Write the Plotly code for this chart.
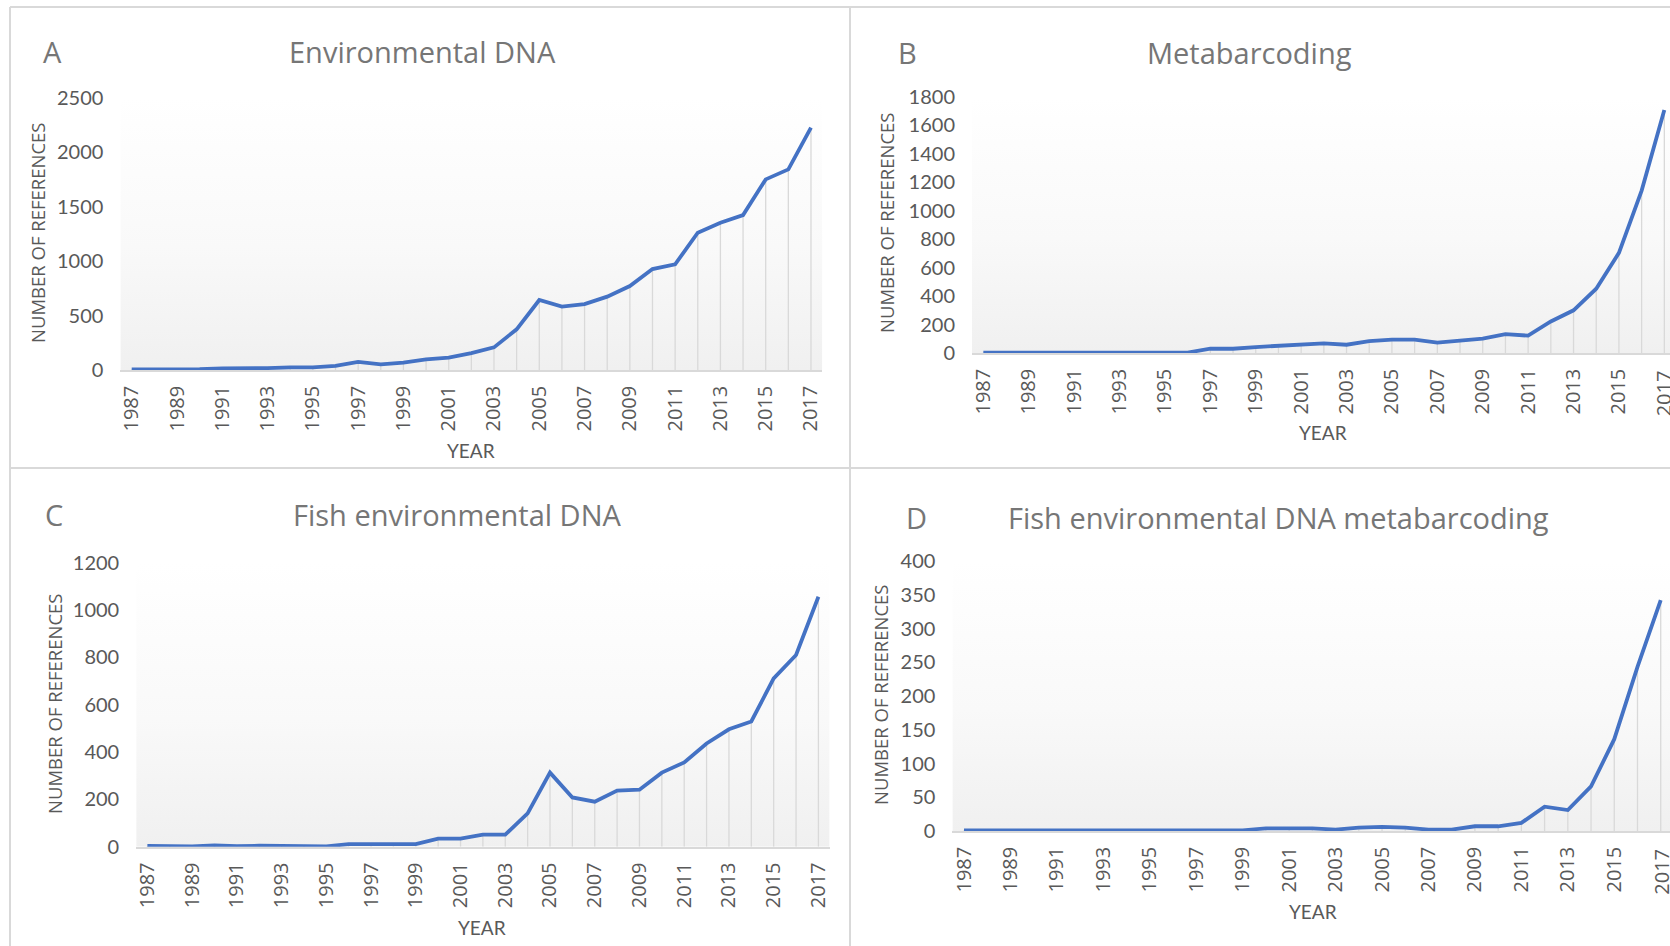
import plotly.graph_objects as go

W, H = 1670, 946

years = list(range(1987, 2018))
tick_years = list(range(1987, 2018, 2))
tick_labels = [str(y) for y in tick_years]

env_dna = [5, 5, 5, 8, 15, 15, 18, 25, 25, 37, 74, 52, 67, 98, 113, 156, 208,
           374, 643, 582, 606, 674, 772, 928, 971, 1262, 1354, 1424, 1752, 1844, 2227]
metabarcoding = [3, 3, 3, 3, 3, 3, 3, 3, 3, 3, 30, 30, 42, 49, 61, 68, 58,
                 84, 94, 94, 73, 89, 101, 133, 122, 222, 300, 452, 704, 1142, 1708]
fish_env_dna = [3, 3, 1, 6, 2, 4, 4, 4, 1, 11, 11, 11, 11, 34, 34, 51, 51,
                141, 313, 208, 190, 237, 241, 313, 356, 436, 496, 529, 711, 810, 1056]
fish_metabarcoding = [1, 1, 1, 1, 1, 1, 1, 1, 1, 1, 1, 1, 1, 4, 4, 4, 2,
                      5, 6, 5, 2, 2, 7, 7, 12, 36, 31, 66, 136, 243, 342]

panel_letters = ["A", "B", "C", "D"]
panel_titles = ["Environmental DNA", "Metabarcoding", "Fish environmental DNA",
                "Fish environmental DNA metabarcoding"]
y_title = "NUMBER OF REFERENCES"
x_title = "YEAR"

y_max = [2500, 1800, 1200, 400]
y_step = [500, 200, 200, 50]
series = [env_dna, metabarcoding, fish_env_dna, fish_metabarcoding]


def px(x):
    return x / W


def py(y):
    return 1 - y / H


# layout geometry (pixels)
panels = [
    dict(left=120.4, right=822.3, top=98, bottom=370, xr=[1986.5, 2017.5],
         letter=(52, 52), title=(423, 52), ytit=(37, 233), xtit=(471, 450),
         clipped_label=False, label_top=387),
    dict(left=972, right=1670, top=97, bottom=353, xr=[1986.5, 2017.25],
         letter=(907, 53), title=(1249, 53), ytit=(886, 223), xtit=(1323, 433),
         clipped_label=True, label_top=368),
    dict(left=136.2, right=829.6, top=562.7, bottom=846.7, xr=[1986.5, 2017.5],
         letter=(54, 514), title=(457, 514), ytit=(54, 704), xtit=(482, 927),
         clipped_label=False, label_top=862),
    dict(left=952.4, right=1670, top=561, bottom=831, xr=[1986.5, 2017.4],
         letter=(917, 517), title=(1278, 517), ytit=(880, 695), xtit=(1313, 911),
         clipped_label=True, label_top=847),
]

LINE = "#4472C4"
GRID = "#d9d9d9"
TXT = "#595959"
TITLE = "#767676"

fig = go.Figure()
annotations = []
layout_axes = {}

for i, p in enumerate(panels):
    n = i + 1
    xa = "x" if n == 1 else f"x{n}"
    ya = "y" if n == 1 else f"y{n}"
    vals = series[i]
    ym = y_max[i]

    # gradient plot-area background
    fig.add_trace(go.Scatter(
        x=[p["xr"][0], p["xr"][1], p["xr"][1], p["xr"][0], p["xr"][0]],
        y=[0, 0, ym, ym, 0], mode="lines", line=dict(width=0),
        fill="toself",
        fillgradient=dict(type="vertical",
                          colorscale=[[0, "#f0f0f0"], [0.45, "#f9f9f9"], [1, "#ffffff"]]),
        hoverinfo="skip", showlegend=False, xaxis=xa, yaxis=ya))

    # drop lines
    fig.add_trace(go.Scatter(
        x=years, y=vals, mode="markers",
        marker=dict(size=1, color="rgba(0,0,0,0)"),
        error_y=dict(type="data", symmetric=False, array=[0] * len(vals),
                     arrayminus=vals, width=0, thickness=1.3, color=GRID),
        hoverinfo="skip", showlegend=False, xaxis=xa, yaxis=ya))

    # main line
    fig.add_trace(go.Scatter(
        x=years, y=vals, mode="lines",
        line=dict(color=LINE, width=3.8),
        showlegend=False, xaxis=xa, yaxis=ya,
        cliponaxis=False))

    xkey = "xaxis" if n == 1 else f"xaxis{n}"
    ykey = "yaxis" if n == 1 else f"yaxis{n}"
    layout_axes[xkey] = dict(
        domain=[px(p["left"]), min(1, px(p["right"]))],
        anchor=ya, range=p["xr"], tickmode="array", automargin=False,
        tickvals=tick_years, ticktext=tick_labels, tickangle=-90,
        showgrid=False, zeroline=False, showline=True, linecolor=GRID,
        linewidth=1.5, ticks="", ticklabelstandoff=6,
        tickfont=dict(family="Open Sans", size=20, color=TXT), fixedrange=True)
    layout_axes[ykey] = dict(
        domain=[py(p["bottom"]), py(p["top"])], automargin=False,
        anchor=xa, range=[0, ym], tickmode="linear", tick0=0, dtick=y_step[i],
        showgrid=False, zeroline=False, showline=False, ticks="",
        ticklabelstandoff=16,
        tickfont=dict(family="Lato", size=20, color=TXT), fixedrange=True)

    # last tick label that runs off the right edge (cut, as in the original)
    if p["clipped_label"]:
        annotations.append(dict(
            text=tick_labels[-1], x=tick_years[-1], xref=xa,
            y=py(p["label_top"]), yref="paper", showarrow=False,
            textangle=-90, xanchor="center", yanchor="top",
            font=dict(family="Open Sans", size=20, color=TXT)))

    annotations.append(dict(
        text=panel_letters[i], x=px(p["letter"][0]), y=py(p["letter"][1]),
        xref="paper", yref="paper", showarrow=False, xanchor="center", yanchor="middle",
        font=dict(family="Open Sans", size=29, color=TITLE)))
    annotations.append(dict(
        text=panel_titles[i], x=px(p["title"][0]), y=py(p["title"][1]),
        xref="paper", yref="paper", showarrow=False, xanchor="center", yanchor="middle",
        font=dict(family="Open Sans", size=29, color=TITLE)))
    annotations.append(dict(
        text=y_title, x=px(p["ytit"][0]), y=py(p["ytit"][1]),
        xref="paper", yref="paper", showarrow=False, xanchor="center", yanchor="middle",
        textangle=-90, font=dict(family="Open Sans", size=18.5, color=TXT)))
    annotations.append(dict(
        text=x_title, x=px(p["xtit"][0]), y=py(p["xtit"][1]),
        xref="paper", yref="paper", showarrow=False, xanchor="center", yanchor="middle",
        font=dict(family="Lato", size=19, color=TXT)))

border = dict(color=GRID, width=2)
shapes = [
    dict(type="line", xref="paper", yref="paper", x0=px(10), x1=1, y0=py(7), y1=py(7), line=border),
    dict(type="line", xref="paper", yref="paper", x0=px(10), x1=1, y0=py(468), y1=py(468), line=border),
    dict(type="line", xref="paper", yref="paper", x0=px(10), x1=px(10), y0=py(7), y1=0, line=border),
    dict(type="line", xref="paper", yref="paper", x0=px(850), x1=px(850), y0=py(7), y1=0, line=border),
]

fig.update_layout(
    template="none",
    width=W, height=H, margin=dict(l=0, r=0, t=0, b=0, pad=0), autosize=False,
    paper_bgcolor="white", plot_bgcolor="rgba(0,0,0,0)",
    showlegend=False, annotations=annotations, shapes=shapes,
    **layout_axes)

post = ("var h=document.documentElement, b=document.body;"
        "[h,b].forEach(function(e){e.style.margin='0';e.style.padding='0';"
        "e.style.overflow='hidden';});")
fig.write_html("out.html", post_script=post, config={"displayModeBar": False})
